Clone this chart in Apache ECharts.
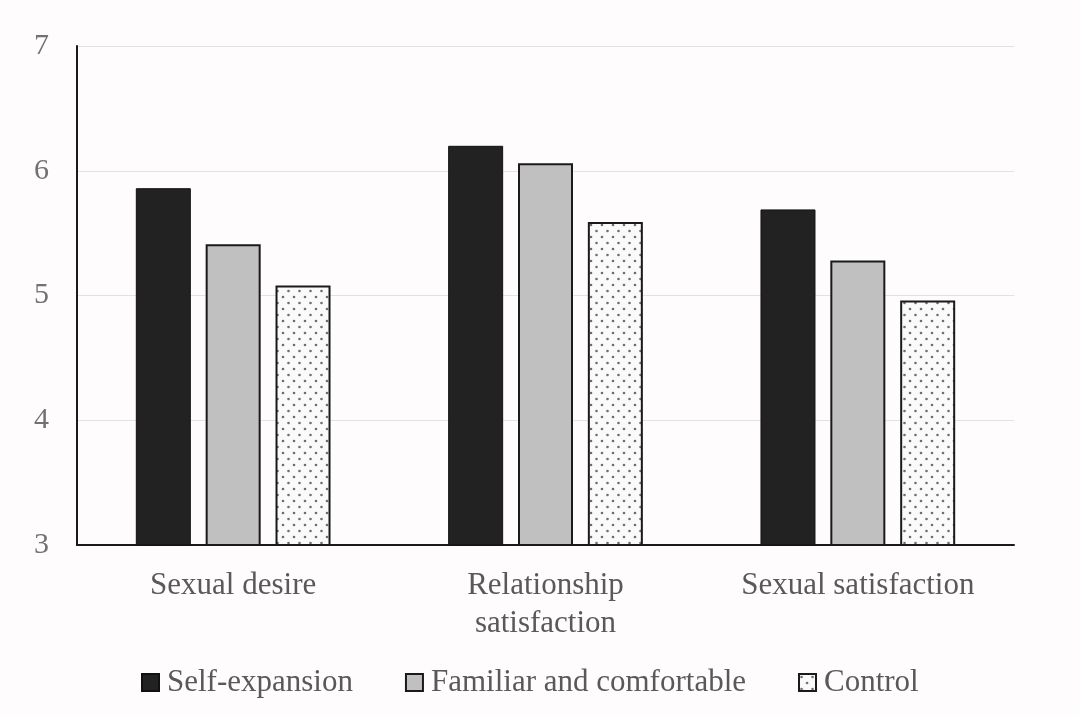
<!DOCTYPE html>
<html>
<head>
<meta charset="utf-8">
<script src="https://cdn.jsdelivr.net/npm/echarts@6/dist/echarts.min.js"></script>
<style>
html,body{margin:0;padding:0;background:#fefcfd;}
#chart{width:1080px;height:716px;}
</style>
</head>
<body>
<div id="chart"></div>
<script>
const categories = ['Sexual desire', 'Relationship\nsatisfaction', 'Sexual satisfaction'];
const seriesNames = ['Self-expansion', 'Familiar and comfortable', 'Control'];
const selfExpansion = [5.86, 6.20, 5.69];
const familiar = [5.41, 6.06, 5.28];
const control = [5.08, 5.59, 4.96];
const yTicks = [3, 4, 5, 6, 7];

const pc = document.createElement('canvas');
pc.width = 11; pc.height = 12;
const ctx = pc.getContext('2d');
ctx.fillStyle = '#fbfafa';
ctx.fillRect(0, 0, 11, 12);
ctx.fillStyle = '#6e6e6e';
ctx.beginPath(); ctx.arc(2.5, 3, 1.3, 0, Math.PI * 2); ctx.fill();
ctx.beginPath(); ctx.arc(8, 9, 1.3, 0, Math.PI * 2); ctx.fill();
const dotPattern = { image: pc, repeat: 'repeat' };

const font = '"Liberation Serif", "DejaVu Serif", serif';
const chart = echarts.init(document.getElementById('chart'));
chart.setOption({
  backgroundColor: '#fefcfd',
  animation: false,
  grid: { left: 77, right: 66, top: 46, bottom: 171 },
  legend: {
    bottom: 13,
    left: 136,
    itemWidth: 17, itemHeight: 17,
    itemGap: 52,
    icon: 'rect',
    textStyle: { fontFamily: font, fontSize: 31, color: '#595959', padding: [0, 0, 0, 3] },
    data: seriesNames
  },
  xAxis: {
    type: 'category',
    data: categories,
    axisLine: { lineStyle: { color: '#1a1a1a', width: 2 } },
    axisTick: { show: false },
    axisLabel: { fontFamily: font, fontSize: 31, color: '#595959', margin: 22, lineHeight: 38 }
  },
  yAxis: {
    type: 'value',
    min: yTicks[0], max: yTicks[yTicks.length - 1], interval: 1,
    axisLine: { show: true, lineStyle: { color: '#1a1a1a', width: 2 } },
    axisTick: { show: false },
    axisLabel: { fontFamily: font, fontSize: 30, color: '#727272', margin: 28 },
    splitLine: { lineStyle: { color: '#e2e2e2', width: 1 } }
  },
  series: [
    { name: seriesNames[0], type: 'bar', data: selfExpansion, barWidth: 55, barGap: '27%',
      itemStyle: { color: '#222222', borderColor: '#111', borderWidth: 1 } },
    { name: seriesNames[1], type: 'bar', data: familiar, barWidth: 55,
      itemStyle: { color: '#c0c0c0', borderColor: '#1a1a1a', borderWidth: 2 } },
    { name: seriesNames[2], type: 'bar', data: control, barWidth: 55,
      itemStyle: { color: dotPattern, borderColor: '#1a1a1a', borderWidth: 2 } }
  ]
});
</script>
</body>
</html>
